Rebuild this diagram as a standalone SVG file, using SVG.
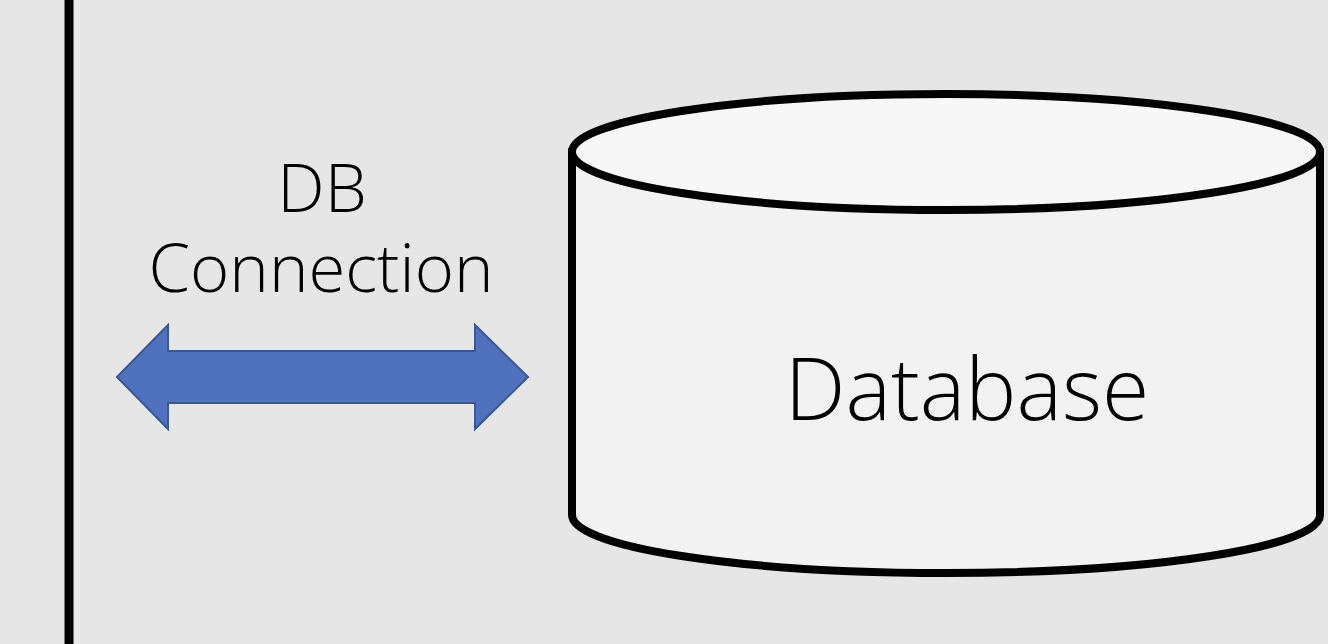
<svg xmlns="http://www.w3.org/2000/svg" width="1328" height="644" viewBox="0 0 1328 644">
<style>
.lbl{font-family:"Open Sans","Noto Sans","Liberation Sans",sans-serif;font-weight:300;fill:#000;text-anchor:middle}
.cyl{stroke:#000;stroke-width:8}
</style>
<rect x="0" y="0" width="1328" height="644" fill="#e6e6e6"/>
<g id="boundary">
<line x1="69" y1="0" x2="69" y2="644" stroke="#000" stroke-width="9"/>
</g>
<g id="connectors">
<path d="M117,377 L168,325 L168,351 L475,351 L475,325 L528,377 L475,429 L475,403 L168,403 L168,429 Z" fill="#4f71be" stroke="#3a5894" stroke-width="2" stroke-linejoin="miter"/>
<text class="lbl" font-size="67"><tspan x="322" y="212">DB</tspan><tspan x="321" y="292">Connection</tspan></text>
</g>
<g id="database">
<path class="cyl" d="M572,152 L572,515 A374,58 0 0 0 1320,515 L1320,152 Z" fill="#f2f2f2"/>
<ellipse class="cyl" cx="946" cy="152" rx="374" ry="58" fill="#f7f7f7"/>
<text class="lbl" x="967" y="420" font-size="86">Database</text>
</g>
</svg>
